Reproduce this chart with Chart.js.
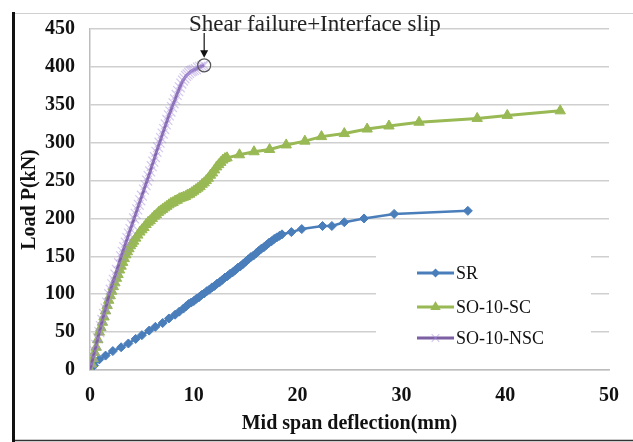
<!DOCTYPE html>
<html>
<head>
<meta charset="utf-8">
<script src="https://cdn.jsdelivr.net/npm/chart.js@4.4.0/dist/chart.umd.min.js"></script>
<style>
html,body{margin:0;padding:0;background:#fff;}
canvas{display:block;}
</style>
</head>
<body>
<canvas id="c" width="633" height="442"></canvas>
<script>
// ---- data ----
const xTicks = [0, 10, 20, 30, 40, 50];
const yTicks = [0, 50, 100, 150, 200, 250, 300, 350, 400, 450];

const seriesNames = ["SR", "SO-10-SC", "SO-10-NSC"];

const srDeflection = [0,0.4,0.9,1.5,2.2,3.0,3.7,4.4,5.0,5.7,6.3,7.0,7.6,8.2,8.6,
  9.0,9.25,9.5,9.75,10.0,10.25,10.5,10.75,11.0,11.25,11.5,11.75,12.0,12.25,12.5,12.75,13.0,13.25,13.5,13.75,
  14.0,14.25,14.5,14.75,15.0,15.25,15.5,15.75,16.0,16.25,16.5,16.75,17.0,17.25,17.5,17.75,18.0,18.25,18.5,
  19.4,20.4,22.4,23.3,24.5,26.4,29.3,36.4];
const srLoad = [0,6,14,19,25,30,35,41,46,52,57,62,68,73,77,
  81,84,87,89,91,94,96,99,101,104,106,109,111,114,116,119,122,124,127,129,
  132,135,137,140,143,146,149,151,154,157,160,162,165,168,170,173,175,177,179,
  182,186,190,190,195,200,206,210];

const scDeflection = [0,0.15,0.3,0.45,0.6,0.75,0.9,1.05,1.2,1.35,1.5,1.65,1.8,1.95,2.1,2.25,2.4,2.55,2.7,2.85,
  3.0,3.15,3.3,3.45,3.6,3.75,3.9,4.05,4.2,4.4,4.6,4.8,5.0,5.2,5.4,5.6,5.8,6.0,6.2,6.4,6.6,6.8,7.0,7.2,7.4,7.6,7.8,
  8.0,8.2,8.4,8.6,8.8,9.0,9.2,9.4,9.6,9.8,10.0,10.2,10.4,10.6,10.8,11.0,11.2,11.4,11.6,11.8,12.0,12.2,12.4,12.6,12.8,13.0,13.2,
  14.4,15.8,17.3,18.9,20.7,22.3,24.5,26.7,28.8,31.7,37.3,40.2,45.3];
const scLoad = [0,8,15,23,30,40,50,56,63,70,78,85,92,98,104,110,115,121,126,132,
  137,142,147,152,156,160,164,167,170,174,178,182,185,188,192,195,197,200,203,205,208,210,212,214,216,218,220,
  221,223,224,226,227,228,229,231,232,234,236,238,240,242,245,247,250,253,257,260,264,268,271,274,277,279,280,
  284,288,291,297,302,308,312,318,322,327,332,336,342];

const nscDeflection = [0,0.15,0.3,0.45,0.6,0.75,0.9,1.05,1.2,1.35,1.5,1.65,1.85,2.0,2.15,2.3,2.45,2.6,2.8,
  3.0,3.15,3.3,3.45,3.6,3.75,3.9,4.05,4.25,4.4,4.55,4.7,4.85,5.0,5.2,5.35,5.5,5.65,5.8,5.95,6.1,6.25,6.4,6.55,6.7,
  6.85,7.0,7.15,7.3,7.45,7.6,7.75,7.9,8.05,8.2,8.35,8.5,8.65,8.8,8.95,9.1,9.25,9.4,9.55,9.7,9.85,10.0,10.2,10.4,10.6,10.8,11.0];
const nscLoad = [0,8,17,25,33,42,50,58,66,74,81,89,100,106,113,119,126,132,141,
  150,156,162,168,174,180,186,192,200,206,212,218,224,230,238,244,250,256,262,269,275,281,288,294,300,
  306,312,318,324,330,336,341,347,352,357,363,368,373,378,382,385,388,390,392,394,395,396,397,399,400,401,402];

const annotationText = "Shear failure+Interface slip";
const xTitle = "Mid span deflection(mm)";
const yTitle = "Load P(kN)";

// ---- styles ----
const BLUE = "#4a7ebb", GREEN = "#98b954", PURPLE = "#7d5fa3";
const PURPLE_MARK = 'rgba(170,145,220,0.5)';
const SERIF = "'Liberation Serif', 'Times New Roman', serif";

function pts(xs, ys){ return xs.map((x,i)=>({x:x, y:ys[i]})); }

const markerStyles = [
  {style:'rectRot', color:BLUE, r:4.5},
  {style:'triangle', color:GREEN, r:6},
  {style:'crossRot', color:PURPLE_MARK, r:5.5}
];

function drawMarker(ctx, kind, x, y){
  const m = markerStyles[kind];
  ctx.save();
  ctx.fillStyle = m.color; ctx.strokeStyle = m.color; ctx.lineWidth = 1.2;
  ctx.beginPath();
  if (m.style === 'rectRot'){
    ctx.moveTo(x, y-m.r); ctx.lineTo(x+m.r, y); ctx.lineTo(x, y+m.r); ctx.lineTo(x-m.r, y); ctx.closePath(); ctx.fill();
  } else if (m.style === 'triangle'){
    const r = m.r;
    ctx.moveTo(x, y-r); ctx.lineTo(x+r*0.87, y+r*0.5); ctx.lineTo(x-r*0.87, y+r*0.5); ctx.closePath(); ctx.fill();
  } else {
    const d = m.r*0.7;
    ctx.moveTo(x-d,y-d); ctx.lineTo(x+d,y+d); ctx.moveTo(x+d,y-d); ctx.lineTo(x-d,y+d); ctx.stroke();
  }
  ctx.restore();
}

const decorPlugin = {
  id: 'decor',
  beforeDraw(chart){
    const ctx = chart.ctx;
    ctx.save();
    ctx.fillStyle = '#fff';
    ctx.fillRect(0,0,chart.width,chart.height);
    ctx.restore();
  },
  afterDatasetsDraw(chart){
    const ctx = chart.ctx;
    const xs = chart.scales.x, ys = chart.scales.y;
    ctx.save();
    // legend box
    ctx.fillStyle = '#fff';
    ctx.fillRect(376, 236, 215, 114);
    const rows = [273, 307, 338];
    const lineColors = [BLUE, GREEN, PURPLE];
    for (let i=0;i<3;i++){
      ctx.strokeStyle = lineColors[i]; ctx.lineWidth = 3;
      ctx.beginPath(); ctx.moveTo(417, rows[i]); ctx.lineTo(454, rows[i]); ctx.stroke();
      drawMarker(ctx, i, 435.5, rows[i]);
      ctx.fillStyle = '#111';
      ctx.font = "18px " + SERIF;
      ctx.textBaseline = 'middle'; ctx.textAlign = 'left';
      ctx.fillText(seriesNames[i], 456, rows[i] + 1);
    }
    // annotation at failure point (last NSC point)
    const last = nscDeflection.length - 1;
    const cx = xs.getPixelForValue(nscDeflection[last]);
    const cy = ys.getPixelForValue(nscLoad[last]);
    ctx.strokeStyle = '#555'; ctx.lineWidth = 1.2;
    ctx.beginPath(); ctx.arc(cx, cy, 6.5, 0, Math.PI*2); ctx.stroke();
    ctx.strokeStyle = '#111'; ctx.lineWidth = 1.2;
    ctx.beginPath(); ctx.moveTo(cx, 33); ctx.lineTo(cx, cy-12); ctx.stroke();
    ctx.fillStyle = '#111';
    ctx.beginPath(); ctx.moveTo(cx-4, cy-15); ctx.lineTo(cx+4, cy-15); ctx.lineTo(cx, cy-7.5); ctx.closePath(); ctx.fill();
    ctx.fillStyle = '#222';
    ctx.font = "23px " + SERIF;
    ctx.textAlign = 'left'; ctx.textBaseline = 'alphabetic';
    ctx.fillText(annotationText, 189, 31);
    ctx.restore();
  },
  afterDraw(chart){
    const ctx = chart.ctx;
    ctx.save();
    // frame of the original picture
    ctx.strokeStyle = '#d0d0d0'; ctx.lineWidth = 1;
    ctx.beginPath(); ctx.moveTo(13, 13.5); ctx.lineTo(633, 13.5); ctx.stroke();
    ctx.strokeStyle = '#333'; ctx.lineWidth = 1.5;
    ctx.beginPath(); ctx.moveTo(13, 440.5); ctx.lineTo(633, 440.5); ctx.stroke();
    ctx.strokeStyle = '#111'; ctx.lineWidth = 3;
    ctx.beginPath(); ctx.moveTo(13.5, 12); ctx.lineTo(13.5, 442); ctx.stroke();
    ctx.restore();
  }
};

new Chart(document.getElementById('c'), {
  type: 'line',
  data: {
    datasets: [
      { label: seriesNames[0], data: pts(srDeflection, srLoad), borderColor: BLUE, backgroundColor: BLUE,
        borderWidth: 2.5, pointStyle: 'rectRot', pointRadius: 4.5, pointBorderWidth: 1, pointBorderColor: BLUE, pointBackgroundColor: BLUE, order: 2 },
      { label: seriesNames[1], data: pts(scDeflection, scLoad), borderColor: GREEN, backgroundColor: GREEN,
        borderWidth: 3, pointStyle: 'triangle', pointRadius: 6, pointBorderWidth: 1, pointBorderColor: GREEN, pointBackgroundColor: GREEN, order: 1 },
      { label: seriesNames[2], data: pts(nscDeflection, nscLoad), borderColor: PURPLE, backgroundColor: PURPLE,
        borderWidth: 3, pointStyle: 'crossRot', pointRadius: 7, pointBorderWidth: 1.2, pointBorderColor: PURPLE_MARK, pointBackgroundColor: PURPLE_MARK, order: 0 }
    ]
  },
  options: {
    responsive: false,
    animation: false,
    devicePixelRatio: 1,
    layout: { padding: { left: 18, right: 23, top: 29, bottom: 6 } },
    plugins: { legend: { display: false }, tooltip: { enabled: false } },
    elements: { line: { tension: 0 } },
    scales: {
      x: {
        type: 'linear', min: 0, max: 50,
        afterBuildTicks(s){ s.ticks = xTicks.map(v=>({value:v})); },
        afterFit(s){ s.height = 66; },
        grid: { display: false, drawTicks: false },
        border: { display: true, color: '#bdbdbd', width: 1.5 },
        ticks: { padding: 14, color: '#111', font: { family: SERIF, size: 20, weight: 'bold' }, maxRotation: 0 },
        title: { display: true, text: xTitle, color: '#111', padding: 0, font: { family: SERIF, size: 20, weight: 'bold' } }
      },
      y: {
        type: 'linear', min: 0, max: 450,
        afterBuildTicks(s){ s.ticks = yTicks.map(v=>({value:v})); },
        afterFit(s){ s.width = 72; },
        grid: { color: '#cfcfcf', lineWidth: 1.5, drawTicks: false },
        border: { display: true, color: '#bdbdbd', width: 1.5 },
        ticks: { padding: 15, color: '#111', font: { family: SERIF, size: 20, weight: 'bold' } },
        title: { display: true, text: yTitle, color: '#111', padding: 0, font: { family: SERIF, size: 20, weight: 'bold' } }
      }
    }
  },
  plugins: [decorPlugin]
});
</script>
</body>
</html>
